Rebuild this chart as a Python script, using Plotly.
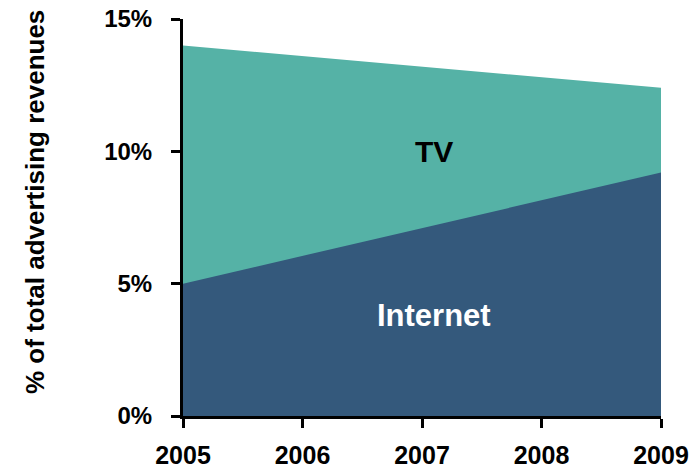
import plotly.graph_objects as go

# Share of total advertising revenues, start and end of the period
years = [2005, 2009]
tv_share = [14.0, 12.4]
internet_share = [5.0, 9.2]

year_ticks = [2005, 2006, 2007, 2008, 2009]
year_labels = ["2005", "2006", "2007", "2008", "2009"]
pct_ticks = [0, 5, 10, 15]
pct_labels = ["0%", "5%", "10%", "15%"]

TEAL = "#55B2A6"
NAVY = "#34597C"
FONT = "Liberation Sans, Arial, Helvetica, sans-serif"

L, R, T, B = 183, 34, 19, 52
W, H = 695, 468
PLOT_W = W - L - R
PLOT_H = H - T - B

fig = go.Figure()
fig.add_trace(go.Scatter(
    x=years, y=tv_share, mode="lines", fill="tozeroy",
    line=dict(width=0, color=TEAL), fillcolor=TEAL, name="TV",
    hoverinfo="skip",
))
fig.add_trace(go.Scatter(
    x=years, y=internet_share, mode="lines", fill="tozeroy",
    line=dict(width=0, color=NAVY), fillcolor=NAVY, name="Internet",
    hoverinfo="skip",
))

fig.add_annotation(x=2007.1, y=10.0, text="<b>TV</b>", showarrow=False,
                   font=dict(family=FONT, size=30, color="black"))
fig.add_annotation(x=2007.1, y=3.8, text="<b>Internet</b>", showarrow=False,
                   font=dict(family=FONT, size=31, color="white"))

# vertical axis title
fig.add_annotation(
    xref="paper", yref="paper", x=(35 - L) / PLOT_W, y=(H - B - 202) / PLOT_H,
    xanchor="center", yanchor="middle", textangle=-90, showarrow=False,
    text="<b>% of total advertising revenues</b>",
    font=dict(family=FONT, size=26, color="black"),
)

fig.update_layout(
    width=W, height=H,
    margin=dict(l=L, r=R, t=T, b=B),
    paper_bgcolor="white", plot_bgcolor="white",
    showlegend=False,
    font=dict(family=FONT, color="black"),
)
fig.update_xaxes(
    range=[2005, 2009], tickmode="array", tickvals=year_ticks, ticktext=year_labels,
    showgrid=False, zeroline=False, showline=True, linecolor="black", linewidth=3,
    ticks="outside", ticklen=9, tickwidth=3, tickcolor="black",
    tickfont=dict(family=FONT, size=25, color="black", weight="bold"),
    ticklabelstandoff=6, automargin=False,
)
fig.update_yaxes(
    range=[0, 15], tickmode="array", tickvals=pct_ticks, ticktext=pct_labels,
    showgrid=False, zeroline=False, showline=True, linecolor="black", linewidth=3,
    ticks="outside", ticklen=9, tickwidth=3, tickcolor="black",
    tickfont=dict(family=FONT, size=24, color="black", weight="bold"),
    ticklabelstandoff=14, automargin=False,
)

fig.write_html("out.html")
